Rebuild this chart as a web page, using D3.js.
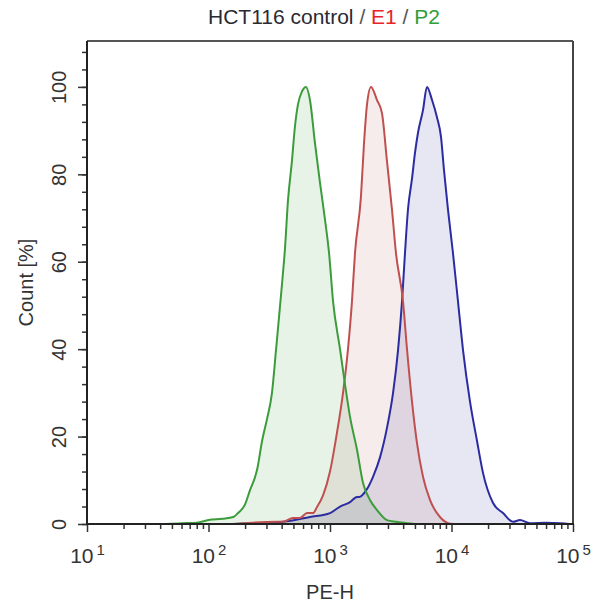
<!DOCTYPE html>
<html>
<head>
<meta charset="utf-8">
<script src="https://cdn.jsdelivr.net/npm/d3@7/dist/d3.min.js"></script>
<style>
  html, body { margin: 0; padding: 0; background: #fff; }
  svg { display: block; font-family: "Liberation Sans", Arial, sans-serif; }
</style>
</head>
<body>
<svg id="chart" width="591" height="605"></svg>
<script>
// ---- Data ----
const titleParts = [
  { text: "HCT116 control", color: "#2a2a35" },
  { text: " / ", color: "#555555" },
  { text: "E1", color: "#e8232b" },
  { text: " / ", color: "#555555" },
  { text: "P2", color: "#2f9e3a" }
];
const xLabel = "PE-H";
const yLabel = "Count [%]";
const xDecades = [1, 2, 3, 4, 5];           // exponents of 10 on the x axis
const yTicks = [0, 20, 40, 60, 80, 100];

// P2 (green)
const p2X = [45, 60, 80, 100, 130, 160, 175, 200, 220, 240, 251, 276, 303, 333, 360, 403, 426, 451, 486, 515, 545, 589, 634, 684, 753, 828, 910, 982, 1059, 1209, 1328, 1462, 1668, 1870, 2133, 2436, 2944, 3500, 4303, 5000];
const p2Y = [0, 0.2, 0.3, 0.9, 1.2, 1.6, 2.5, 4.5, 7.8, 10.5, 12.4, 19, 24, 30, 40, 55, 63, 74, 83, 91, 96, 99, 100, 97, 87, 78, 69.6, 62, 51, 40, 32, 24.5, 17, 9.4, 5.5, 3.2, 0.9, 0.5, 0.2, 0];

// E1 (red)
const e1X = [159, 367, 410, 496, 566, 647, 725, 782, 875, 1000, 1143, 1280, 1406, 1517, 1606, 1799, 1904, 2017, 2175, 2436, 2678, 2944, 3236, 3491, 3987, 4303, 4731, 5200, 5826, 6650, 8035, 9350, 10500];
const e1Y = [0, 0.5, 0.5, 1.4, 1.4, 2.5, 2.5, 3.9, 6.5, 12, 21, 30, 40, 51, 62, 75, 87, 96, 100, 97, 94, 83, 72, 62, 51, 40, 28, 18.5, 10.8, 5.5, 1.6, 0.2, 0];

// HCT116 control (blue)
const ctlX = [159, 410, 684, 1000, 1209, 1462, 1668, 1743, 1995, 2259, 2583, 2944, 3304, 3631, 3917, 4142, 4385, 4731, 5012, 5300, 5826, 6281, 6915, 7600, 8200, 8670, 9350, 10280, 11300, 12440, 14200, 16220, 18160, 21970, 26540, 32070, 36640, 44260, 60000, 78200, 94000];
const ctlY = [0, 0.5, 1.6, 2.5, 4, 5, 6.2, 6.2, 7.8, 10.8, 15.3, 22, 30, 39.8, 51, 62, 72, 79, 85, 89.5, 94.7, 100, 97, 93, 88.5, 81, 72, 62, 51, 39.8, 28, 19, 11.7, 4.8, 2.5, 0.5, 0.9, 0.2, 0.3, 0.2, 0];

const seriesNames = ["HCT116 control", "E1", "P2"];
const lineColors = ["#2c2ca2", "#c0504f", "#3c9c3c"];
const fillColors = ["#e7e7f4", "#f6ecec", "#e8f3e8"];

// ---- Layout ----
const svg = d3.select("#chart");
const mLeft = 87, mRight = 573, mTop = 41, mBottom = 524;

svg.append("rect").attr("x", 0).attr("y", 0).attr("width", 591).attr("height", 605).attr("fill", "#fff");

const x = d3.scaleLog().domain([10, 1e5]).range([mLeft, mRight]);
const y = d3.scaleLinear().domain([0, 110.5]).range([mBottom, mTop]);

const series = [
  { xs: ctlX, ys: ctlY },
  { xs: e1X, ys: e1Y },
  { xs: p2X, ys: p2Y }
].map((s, i) => ({ name: seriesNames[i], pts: s.xs.map((v, j) => [v, s.ys[j]]), line: lineColors[i], fill: fillColors[i] }));

const area = d3.area().x(d => x(d[0])).y0(y(0)).y1(d => y(d[1])).curve(d3.curveMonotoneX);
const line = d3.line().x(d => x(d[0])).y(d => y(d[1])).curve(d3.curveMonotoneX);

const plot = svg.append("g").style("isolation", "isolate");
plot.append("rect").attr("x", mLeft).attr("y", mTop).attr("width", mRight - mLeft).attr("height", mBottom - mTop).attr("fill", "#fff");
series.forEach(s => {
  plot.append("path").attr("d", area(s.pts)).attr("fill", s.fill).style("mix-blend-mode", "multiply");
});
series.forEach(s => {
  plot.append("path").attr("d", line(s.pts)).attr("fill", "none").attr("stroke", s.line).attr("stroke-width", 2).attr("stroke-linejoin", "round");
});

// ---- Frame ----
svg.append("line").attr("x1", mLeft).attr("x2", mRight).attr("y1", mTop).attr("y2", mTop).attr("stroke", "#555").attr("stroke-width", 2);
svg.append("line").attr("x1", mRight).attr("x2", mRight).attr("y1", mTop).attr("y2", mBottom).attr("stroke", "#444").attr("stroke-width", 2);

// ---- Y axis ----
const yMinor = d3.range(0, 110, 4);
const yAxisMinor = d3.axisLeft(y).tickValues(yMinor).tickSize(5).tickFormat("");
const yAxisMajor = d3.axisLeft(y).tickValues(yTicks).tickSize(9).tickFormat("");
const gyMinor = svg.append("g").attr("transform", `translate(${mLeft},0)`).call(yAxisMinor);
const gy = svg.append("g").attr("transform", `translate(${mLeft},0)`).call(yAxisMajor);
[gyMinor, gy].forEach(g => {
  g.select(".domain").remove();
  g.selectAll("line").attr("stroke", "#333").attr("stroke-width", 1.5);
});
gy.selectAll(".tick").append("text")
  .attr("transform", "translate(-21,0) rotate(-90)")
  .attr("text-anchor", "middle")
  .attr("fill", "#333")
  .attr("font-size", 20)
  .text(d => d);
svg.append("line").attr("x1", mLeft).attr("x2", mLeft).attr("y1", mTop).attr("y2", mBottom + 1).attr("stroke", "#222").attr("stroke-width", 2);

// ---- X axis ----
const xMinor = [];
xDecades.slice(0, -1).forEach(e => { for (let k = 2; k <= 9; k++) xMinor.push(k * Math.pow(10, e)); });
const xMajor = xDecades.map(e => Math.pow(10, e));
const gxMinor = svg.append("g").attr("transform", `translate(0,${mBottom})`).call(d3.axisBottom(x).tickValues(xMinor).tickSize(5).tickFormat(""));
const gx = svg.append("g").attr("transform", `translate(0,${mBottom})`).call(d3.axisBottom(x).tickValues(xMajor).tickSize(8).tickFormat(""));
[gxMinor, gx].forEach(g => {
  g.select(".domain").remove();
  g.selectAll("line").attr("stroke", "#333").attr("stroke-width", 1.5);
});
const lbl = gx.selectAll(".tick").append("text")
  .attr("y", 39)
  .attr("text-anchor", "middle")
  .attr("fill", "#333")
  .attr("font-size", 21);
lbl.append("tspan").text("10");
lbl.append("tspan").attr("dy", -8).attr("dx", 3).attr("font-size", 15).text((d, i) => xDecades[i]);
svg.append("line").attr("x1", mLeft - 1).attr("x2", mRight + 1).attr("y1", mBottom).attr("y2", mBottom).attr("stroke", "#222").attr("stroke-width", 2);

// ---- Axis titles ----
svg.append("text").attr("x", (mLeft + mRight) / 2).attr("y", 599).attr("text-anchor", "middle")
  .attr("fill", "#333").attr("font-size", 20).text(xLabel);
svg.append("text").attr("transform", `translate(33,${(mTop + mBottom) / 2}) rotate(-90)`).attr("text-anchor", "middle")
  .attr("fill", "#333").attr("font-size", 20).text(yLabel);

// ---- Title ----
const t = svg.append("text").attr("x", 324).attr("y", 24).attr("text-anchor", "middle").attr("font-size", 21).attr("xml:space", "preserve");
titleParts.forEach(p => t.append("tspan").attr("fill", p.color).style("white-space", "pre").text(p.text));
</script>
</body>
</html>
